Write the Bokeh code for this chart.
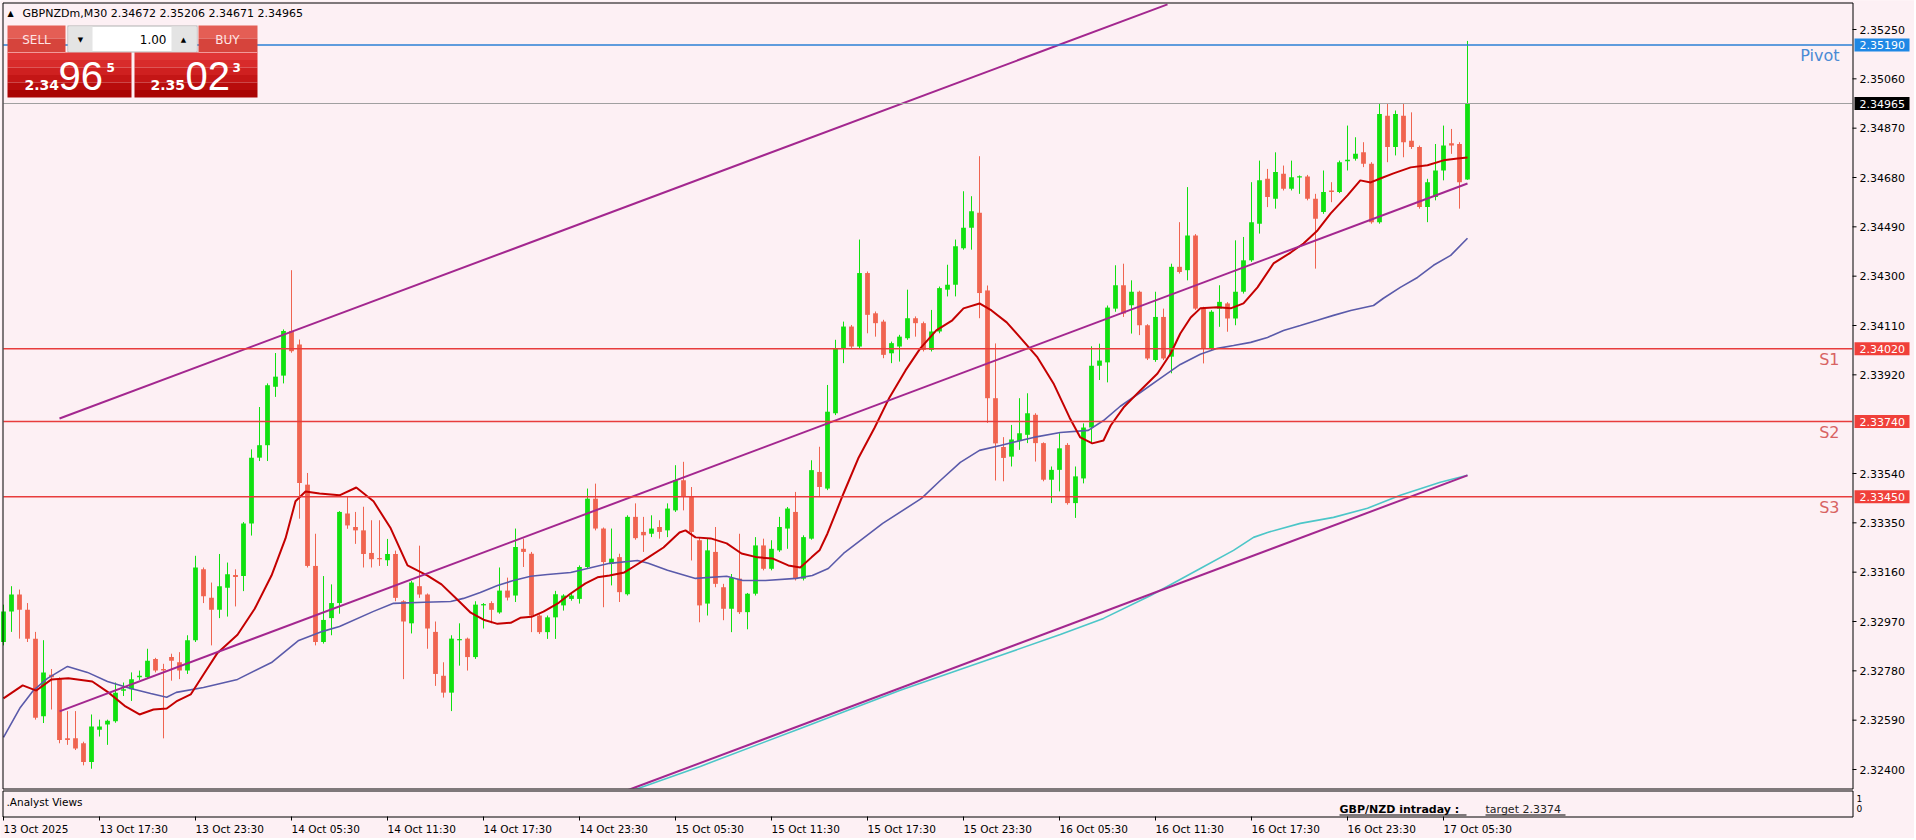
import numpy as np
from bokeh.plotting import figure
from bokeh.models import Range1d, Label, ColumnDataSource
from bokeh.embed import file_html
from bokeh.resources import INLINE

# ------------------------------------------------------------------ data
symbol = "GBPNZDm,M30"
opens = [2.32891, 2.33009, 2.33074, 2.33015, 2.32904, 2.32605, 2.32765, 2.32748, 2.32520, 2.32520,
         2.32501, 2.32429, 2.32553, 2.32573, 2.32586, 2.32703, 2.32709, 2.32755, 2.32755, 2.32826,
         2.32787, 2.32833, 2.32813, 2.32781, 2.32898, 2.33171, 2.33061, 2.33015, 2.33100, 2.33149,
         2.33145, 2.33347, 2.33601, 2.33649, 2.33874, 2.33917, 2.34089, 2.34037, 2.33497, 2.33184,
         2.32891, 2.32983, 2.33041, 2.33386, 2.33334, 2.33321, 2.33234, 2.33214, 2.33206, 2.33230,
         2.33048, 2.32963, 2.33106, 2.33074, 2.32930, 2.32761, 2.32696, 2.32898, 2.32904, 2.32833,
         2.33032, 2.33041, 2.33005, 2.33089, 2.33070, 2.33250, 2.33231, 2.32993, 2.32929, 2.32986,
         2.33032, 2.33057, 2.33057, 2.33180, 2.33443, 2.33328, 2.33193, 2.33218, 2.33075, 2.33373,
         2.33315, 2.33308, 2.33334, 2.33321, 2.33398, 2.33514, 2.33450, 2.33283, 2.33039, 2.33238,
         2.33102, 2.33019, 2.33135, 2.33006, 2.33077, 2.33263, 2.33173, 2.33244, 2.33328, 2.33392,
         2.33135, 2.33289, 2.33546, 2.33482, 2.33772, 2.34022, 2.34106, 2.34029, 2.34312, 2.34157,
         2.34125, 2.34003, 2.34029, 2.34061, 2.34138, 2.34119, 2.34016, 2.34087, 2.34248, 2.34267,
         2.34408, 2.34486, 2.34544, 2.34245, 2.33830, 2.33642, 2.33605, 2.33665, 2.33689, 2.33766,
         2.33657, 2.33516, 2.33554, 2.33650, 2.33426, 2.33521, 2.33717, 2.33955, 2.33968, 2.34175,
         2.34265, 2.34188, 2.34240, 2.34111, 2.33977, 2.34143, 2.33990, 2.34336, 2.34323, 2.34457,
         2.34175, 2.34022, 2.34175, 2.34195, 2.34137, 2.34240, 2.34361, 2.34502, 2.34675, 2.34598,
         2.34694, 2.34637, 2.34681, 2.34684, 2.34598, 2.34547, 2.34630, 2.34624, 2.34743, 2.34752,
         2.34777, 2.34733, 2.34508, 2.34918, 2.34797, 2.34918, 2.34822, 2.34797, 2.34566, 2.34605,
         2.34707, 2.34812, 2.34809, 2.34672]
highs = [2.33035, 2.33106, 2.33093, 2.33041, 2.32930, 2.32898, 2.32787, 2.32755, 2.32625, 2.32625,
         2.32507, 2.32612, 2.32592, 2.32592, 2.32735, 2.32735, 2.32774, 2.32781, 2.32865, 2.32830,
         2.32807, 2.32846, 2.32852, 2.32917, 2.33223, 2.33178, 2.33120, 2.33230, 2.33197, 2.33171,
         2.33353, 2.33633, 2.33796, 2.33887, 2.34004, 2.34095, 2.34323, 2.34056, 2.33542, 2.33308,
         2.33145, 2.33113, 2.33395, 2.33451, 2.33392, 2.33412, 2.33360, 2.33360, 2.33288, 2.33243,
         2.33052, 2.33126, 2.33262, 2.33078, 2.32970, 2.32813, 2.32917, 2.32963, 2.32908, 2.33048,
         2.33041, 2.33048, 2.33178, 2.33139, 2.33328, 2.33289, 2.33238, 2.32998, 2.32993, 2.33088,
         2.33075, 2.33080, 2.33186, 2.33482, 2.33501, 2.33332, 2.33328, 2.33231, 2.33379, 2.33425,
         2.33373, 2.33379, 2.33360, 2.33425, 2.33572, 2.33585, 2.33488, 2.33295, 2.33289, 2.33334,
         2.33115, 2.33153, 2.33308, 2.33080, 2.33295, 2.33289, 2.33283, 2.33373, 2.33411, 2.33469,
         2.33302, 2.33591, 2.33643, 2.33881, 2.34055, 2.34125, 2.34112, 2.34441, 2.34318, 2.34164,
         2.34132, 2.34048, 2.34074, 2.34248, 2.34145, 2.34125, 2.34170, 2.34260, 2.34344, 2.34441,
         2.34627, 2.34608, 2.34762, 2.34264, 2.34041, 2.33680, 2.33727, 2.33830, 2.33849, 2.33772,
         2.33660, 2.33567, 2.33695, 2.33657, 2.33567, 2.33733, 2.34030, 2.34040, 2.34187, 2.34342,
         2.34348, 2.34284, 2.34244, 2.34115, 2.34240, 2.34175, 2.34348, 2.34508, 2.34643, 2.34462,
         2.34182, 2.34169, 2.34265, 2.34200, 2.34438, 2.34451, 2.34662, 2.34745, 2.34713, 2.34777,
         2.34726, 2.34745, 2.34688, 2.34690, 2.34617, 2.34707, 2.34662, 2.34745, 2.34880, 2.34835,
         2.34816, 2.34739, 2.34963, 2.34963, 2.34938, 2.34963, 2.34931, 2.34803, 2.34675, 2.34809,
         2.34880, 2.34867, 2.34816, 2.35206]
lows = [2.32878, 2.32930, 2.32904, 2.32891, 2.32592, 2.32579, 2.32631, 2.32501, 2.32495, 2.32475,
        2.32416, 2.32403, 2.32527, 2.32495, 2.32580, 2.32683, 2.32664, 2.32745, 2.32750, 2.32774,
        2.32520, 2.32742, 2.32748, 2.32768, 2.32891, 2.33041, 2.32878, 2.32983, 2.32989, 2.33028,
        2.33087, 2.33301, 2.33588, 2.33588, 2.33835, 2.33887, 2.34005, 2.33366, 2.33178, 2.32878,
        2.32885, 2.32917, 2.33000, 2.33327, 2.33269, 2.33178, 2.33178, 2.33184, 2.33184, 2.33048,
        2.32748, 2.32924, 2.33061, 2.32865, 2.32722, 2.32677, 2.32625, 2.32800, 2.32781, 2.32826,
        2.32943, 2.32963, 2.33000, 2.33051, 2.33045, 2.33180, 2.32929, 2.32922, 2.32903, 2.32903,
        2.33012, 2.33050, 2.33039, 2.33173, 2.33321, 2.33025, 2.33109, 2.33045, 2.33070, 2.33285,
        2.33238, 2.33295, 2.33289, 2.33295, 2.33392, 2.33398, 2.33205, 2.32967, 2.32993, 2.33102,
        2.32975, 2.32929, 2.32999, 2.32940, 2.33070, 2.33167, 2.33167, 2.33238, 2.33250, 2.33128,
        2.33128, 2.33285, 2.33450, 2.33476, 2.33765, 2.33965, 2.34022, 2.34022, 2.34080, 2.34067,
        2.33984, 2.33965, 2.33971, 2.34055, 2.34067, 2.34010, 2.34010, 2.34080, 2.34222, 2.34222,
        2.34402, 2.34402, 2.34138, 2.33735, 2.33513, 2.33510, 2.33567, 2.33631, 2.33657, 2.33586,
        2.33510, 2.33426, 2.33471, 2.33420, 2.33369, 2.33502, 2.33660, 2.33900, 2.33891, 2.34163,
        2.34143, 2.34079, 2.34073, 2.33977, 2.33970, 2.33977, 2.33926, 2.34310, 2.34284, 2.34170,
        2.33964, 2.34015, 2.34105, 2.34086, 2.34111, 2.34233, 2.34355, 2.34464, 2.34566, 2.34560,
        2.34630, 2.34630, 2.34617, 2.34592, 2.34329, 2.34540, 2.34585, 2.34620, 2.34707, 2.34745,
        2.34720, 2.34502, 2.34502, 2.34739, 2.34765, 2.34758, 2.34790, 2.34560, 2.34508, 2.34592,
        2.34669, 2.34771, 2.34560, 2.34671]
closes = [2.33009, 2.33074, 2.33015, 2.32904, 2.32599, 2.32774, 2.32755, 2.32514, 2.32514, 2.32481,
          2.32429, 2.32566, 2.32566, 2.32588, 2.32696, 2.32709, 2.32748, 2.32761, 2.32819, 2.32781,
          2.32781, 2.32819, 2.32781, 2.32898, 2.33178, 2.33067, 2.33015, 2.33106, 2.33152, 2.33141,
          2.33347, 2.33601, 2.33649, 2.33880, 2.33913, 2.34089, 2.34011, 2.33503, 2.33184, 2.32891,
          2.32976, 2.33041, 2.33392, 2.33340, 2.33321, 2.33230, 2.33210, 2.33210, 2.33230, 2.33061,
          2.32970, 2.33120, 2.33074, 2.32943, 2.32768, 2.32696, 2.32904, 2.32902, 2.32833, 2.33035,
          2.33037, 2.33015, 2.33089, 2.33062, 2.33257, 2.33238, 2.32993, 2.32929, 2.32986, 2.33075,
          2.33070, 2.33070, 2.33180, 2.33443, 2.33328, 2.33199, 2.33212, 2.33083, 2.33373, 2.33291,
          2.33302, 2.33328, 2.33315, 2.33405, 2.33514, 2.33450, 2.33315, 2.33032, 2.33244, 2.33115,
          2.33019, 2.33138, 2.33006, 2.33077, 2.33263, 2.33173, 2.33250, 2.33334, 2.33405, 2.33135,
          2.33295, 2.33553, 2.33488, 2.33778, 2.34022, 2.34106, 2.34029, 2.34312, 2.34151, 2.34119,
          2.33997, 2.34042, 2.34067, 2.34138, 2.34119, 2.34016, 2.34087, 2.34254, 2.34267, 2.34415,
          2.34486, 2.34550, 2.34235, 2.33830, 2.33656, 2.33600, 2.33671, 2.33695, 2.33772, 2.33657,
          2.33516, 2.33554, 2.33637, 2.33426, 2.33529, 2.33717, 2.33955, 2.33975, 2.34179, 2.34265,
          2.34156, 2.34240, 2.34111, 2.33983, 2.34143, 2.33983, 2.34336, 2.34316, 2.34457, 2.34175,
          2.34022, 2.34163, 2.34201, 2.34137, 2.34240, 2.34361, 2.34508, 2.34669, 2.34605, 2.34701,
          2.34637, 2.34681, 2.34684, 2.34598, 2.34521, 2.34624, 2.34624, 2.34739, 2.34748, 2.34771,
          2.34733, 2.34508, 2.34925, 2.34797, 2.34925, 2.34816, 2.34797, 2.34566, 2.34662, 2.34707,
          2.34803, 2.34803, 2.34662, 2.34965]
ask_price = 2.35023

x_tick_labels = ["13 Oct 2025", "13 Oct 17:30", "13 Oct 23:30", "14 Oct 05:30", "14 Oct 11:30",
                 "14 Oct 17:30", "14 Oct 23:30", "15 Oct 05:30", "15 Oct 11:30", "15 Oct 17:30",
                 "15 Oct 23:30", "16 Oct 05:30", "16 Oct 11:30", "16 Oct 17:30", "16 Oct 23:30",
                 "17 Oct 05:30"]
bars_per_label = 12
y_ticks = [2.35250, 2.35060, 2.34870, 2.34680, 2.34490, 2.34300, 2.34110, 2.33920,
           2.33540, 2.33350, 2.33160, 2.32970, 2.32780, 2.32590, 2.32400]

pivot_level = 2.35190
support_levels = [2.34020, 2.33740, 2.33450]
support_names = ["S1", "S2", "S3"]

fast_ma_bar = [0, 2.4, 4.1, 6, 8.1, 11.1, 13.1, 15.25, 17, 18.75,
               20.4, 21.6, 23.4, 25, 26.75, 29.25, 31.4, 33.5, 35.25, 36.5,
               37.75, 39.5, 42, 44.1, 46.25, 48.4, 50.5, 53, 54.75, 56.75,
               58.4, 60, 61.75, 63.4, 64.6, 66, 67.5, 69.4, 70.9, 72.75,
               74.25, 75.75, 77.6, 78.6, 80.6, 82.5, 84.5, 85.25, 86.5, 88.4,
               90.4, 92.25, 94.25, 96.1, 98.1, 99.6, 101, 102, 103, 105,
               106.9, 108.9, 110.75, 112.75, 114.6, 116.6, 118.6, 120, 122, 123.5,
               125.4, 127.4, 129.25, 131.25, 133.25, 134.6, 136.1, 137.5, 138.4, 140,
               142.1, 144.25, 145.9, 147.1, 148.4, 149.6, 151.75, 153.4, 155, 156.75,
               158.75, 160.9, 162.5, 164.25, 165.9, 168, 169.6, 170.9, 172.1, 173.75,
               175.9, 178, 180, 181.75, 183]
fast_ma = [2.32674, 2.32724, 2.32704, 2.32747, 2.32751, 2.32739, 2.32697, 2.32643, 2.32612, 2.32631,
           2.32635, 2.32662, 2.32689, 2.32766, 2.32849, 2.32919, 2.33019, 2.33147, 2.33290, 2.33433,
           2.33471, 2.33463, 2.33456, 2.33486, 2.33433, 2.33329, 2.33186, 2.33147, 2.33113, 2.33054,
           2.33004, 2.32977, 2.32961, 2.32965, 2.32984, 2.32988, 2.33008, 2.33042, 2.33078, 2.33117,
           2.33140, 2.33147, 2.33159, 2.33178, 2.33217, 2.33255, 2.33313, 2.33321, 2.33294, 2.33290,
           2.33271, 2.33232, 2.33217, 2.33213, 2.33186, 2.33178, 2.33217, 2.33244, 2.33309, 2.33463,
           2.33602, 2.33717, 2.33833, 2.33937, 2.34022, 2.34091, 2.34130, 2.34176, 2.34195, 2.34168,
           2.34122, 2.34053, 2.33987, 2.33887, 2.33756, 2.33679, 2.33656, 2.33667, 2.33725, 2.33794,
           2.33860, 2.33925, 2.34002, 2.34079, 2.34141, 2.34176, 2.34180, 2.34176, 2.34195, 2.34257,
           2.34349, 2.34391, 2.34426, 2.34476, 2.34542, 2.34611, 2.34669, 2.34661, 2.34676, 2.34696,
           2.34719, 2.34727, 2.34746, 2.34753, 2.34757]

slow_ma_bar = [0, 2.1, 3.75, 5.5, 8, 10.5, 13, 15.9, 18.4, 20.4,
               21.6, 25, 29.25, 33.5, 36.9, 39.9, 42, 46.25, 48.75, 52.6,
               55.9, 57.5, 59.6, 61.75, 63.75, 65.9, 68, 70.9, 75.75, 79.25,
               80.6, 83, 86.5, 90.4, 92.4, 95.25, 99.1, 101.1, 103.1, 105,
               109.9, 114.75, 117.1, 119.6, 122, 124.6, 128.75, 132.1, 135.6, 137.5,
               139.6, 142.1, 144.6, 147.1, 149.6, 151.75, 153.75, 155.9, 158, 160,
               162.1, 164.25, 166.25, 168.4, 171.25, 172.5, 174.6, 176.75, 178.75, 180.9,
               183]
slow_ma = [2.32524, 2.32639, 2.32705, 2.32751, 2.32797, 2.32774, 2.32739, 2.32712, 2.32693, 2.32678,
           2.32697, 2.32716, 2.32747, 2.32812, 2.32897, 2.32932, 2.32951, 2.33009, 2.33040, 2.33044,
           2.33047, 2.33059, 2.33082, 2.33109, 2.33128, 2.33144, 2.33151, 2.33159, 2.33194, 2.33205,
           2.33194, 2.33167, 2.33136, 2.33144, 2.33128, 2.33128, 2.33136, 2.33147, 2.33174, 2.33232,
           2.33348, 2.33444, 2.33513, 2.33583, 2.33629, 2.33648, 2.33679, 2.33698, 2.33706, 2.33744,
           2.33799, 2.33852, 2.33906, 2.33960, 2.33999, 2.34022, 2.34033, 2.34045, 2.34064, 2.34091,
           2.34110, 2.34130, 2.34149, 2.34168, 2.34187, 2.34215, 2.34257, 2.34295, 2.34342, 2.34380,
           2.34446]

trend_ma_bar = [78, 87.1, 99.6, 112.1, 124.6, 132.1, 137.5, 143.4, 149.6, 153.75,
                156.25, 158, 162.1, 166.25, 170.5, 174.6, 179.6, 183]
trend_ma = [2.32312, 2.32412, 2.32558, 2.32705, 2.32839, 2.32920, 2.32982, 2.33070, 2.33174, 2.33244,
            2.33294, 2.33313, 2.33348, 2.33371, 2.33406, 2.33456, 2.33506, 2.33533]

channel_upper_bar = [7, 145.5]
channel_upper = [2.33752, 2.35347]
channel_mid_bar = [7, 183]
channel_mid = [2.32624, 2.34657]
channel_low_bar = [78, 183]
channel_low = [2.32320, 2.33533]

panel_title = ".Analyst Views"
analyst_view = "GBP/NZD intraday :"
analyst_target = "target 2.3374"
sub_axis_labels = ["1", "0"]

# ------------------------------------------------------------------ layout constants (page px)
BG = "#fdf0f4"
BULL = "#10e010"
BEAR = "#f06450"
FONT = "DejaVu Sans"
TOTAL_W, TOTAL_H = 1914, 838
CL, CT, CR, CB = 3, 3, 1852, 788      # price chart frame
SUB_T, SUB_B = 790, 816               # indicator sub-window
BAR_PX = 8.0
XS = -CL / BAR_PX                      # bar 0 sits on x = 3 px
PXU = 25965.0                          # px per price unit
YT = 2.3525 + 29 / PXU                 # price at y = 0 px


def X(px):
    return XS + px / BAR_PX


def Y(py):
    return YT - py / PXU


p = figure(frame_width=TOTAL_W, frame_height=TOTAL_H,
           x_range=Range1d(X(0), X(TOTAL_W)), y_range=Range1d(Y(TOTAL_H), Y(0)),
           x_axis_location=None, y_axis_location=None, toolbar_location=None,
           output_backend="svg", min_border=0, outline_line_color=None,
           background_fill_color=BG, border_fill_color=BG)
p.grid.visible = False

# ---------------- candles
o = np.array(opens); h = np.array(highs); l = np.array(lows); c = np.array(closes)
idx = np.arange(len(o))
top = np.maximum(o, c)
bot = np.minimum(o, c)
minh = 1.2 / PXU
mid = (top + bot) / 2
small = (top - bot) < minh
top = np.where(small, mid + minh / 2, top)
bot = np.where(small, mid - minh / 2, bot)
cols = np.where(c >= o, BULL, BEAR)
src = ColumnDataSource(dict(x=idx, h=h, l=l, t=top, b=bot, col=cols))
p.segment(x0="x", y0="l", x1="x", y1="h", line_color="col", line_width=1, source=src)
p.vbar(x="x", width=0.6, top="t", bottom="b", fill_color="col", line_color=None, source=src)

# ---------------- moving averages and channel
p.line(trend_ma_bar, trend_ma, line_color="#4cc6c8", line_width=1.6)
p.line(slow_ma_bar, slow_ma, line_color="#5a5aaa", line_width=1.6)
p.line(fast_ma_bar, fast_ma, line_color="#c40000", line_width=2)
for bx, by in [(channel_upper_bar, channel_upper), (channel_mid_bar, channel_mid),
               (channel_low_bar, channel_low)]:
    p.line(bx, by, line_color="#a3278f", line_width=2)

# ---------------- horizontal levels (across the price chart only)
lv_y = [closes[-1], pivot_level] + support_levels
lv_c = ["#a0a0a0", "#2a80d6"] + ["#e83c3c"] * len(support_levels)
lv_w = [1, 1.5] + [1.5] * len(support_levels)
p.segment(x0=[X(CL)] * len(lv_y), x1=[X(CR)] * len(lv_y), y0=lv_y, y1=lv_y,
          line_color=lv_c, line_width=lv_w)

# ---------------- masks outside the price chart, frames
p.quad(left=[X(0)], right=[X(TOTAL_W)], top=[Y(CB)], bottom=[Y(TOTAL_H)],
       fill_color=BG, line_color=None)
p.quad(left=[X(0)], right=[X(TOTAL_W)], top=[Y(0)], bottom=[Y(CT)],
       fill_color=BG, line_color=None)
p.quad(left=[X(CR)], right=[X(TOTAL_W)], top=[Y(0)], bottom=[Y(TOTAL_H)],
       fill_color=BG, line_color=None)
p.quad(left=[X(CL - 0.5)], right=[X(CR + 0.5)], top=[Y(CT - 0.5)], bottom=[Y(CB + 0.5)],
       fill_color=None, line_color="black", line_width=1)
p.quad(left=[X(CL - 0.5)], right=[X(CR + 0.5)], top=[Y(SUB_T + 0.5)], bottom=[Y(SUB_B + 0.5)],
       fill_color=None, line_color="black", line_width=1)

# ---------------- level names
p.add_layout(Label(x=X(CR - 13), y=pivot_level, y_offset=-1, text="Pivot", text_align="right",
                   text_baseline="top", text_color="#4a8ad4", text_font=FONT, text_font_size="16px"))
for lv, nm in zip(support_levels, support_names):
    p.add_layout(Label(x=X(CR - 13), y=lv, y_offset=-1, text=nm, text_align="right",
                       text_baseline="top", text_color="#d86262", text_font=FONT,
                       text_font_size="16px"))

# ---------------- right price scale
p.segment(x0=[X(CR)] * len(y_ticks), x1=[X(CR + 4)] * len(y_ticks), y0=y_ticks, y1=y_ticks,
          line_color="black", line_width=1)
for yv in y_ticks:
    p.add_layout(Label(x=X(CR + 7), y=yv, text=f"{yv:.5f}", text_align="left",
                       text_baseline="middle", text_font=FONT, text_font_size="11px",
                       text_color="black"))
boxes = [(pivot_level, "#1e88e5"), (closes[-1], "#000000")] + [(lv, "#f0403a") for lv in support_levels]
half = 6.5 / PXU
p.quad(left=[X(CR + 2)] * len(boxes), right=[X(CR + 57)] * len(boxes),
       top=[b[0] + half for b in boxes], bottom=[b[0] - half for b in boxes],
       fill_color=[b[1] for b in boxes], line_color=None)
for lv, colr in boxes:
    p.add_layout(Label(x=X(CR + 7), y=lv, text=f"{lv:.5f}", text_align="left",
                       text_baseline="middle", text_color="white", text_font=FONT,
                       text_font_size="11px"))

# ---------------- time scale
tick_bars = [i * bars_per_label for i in range(len(x_tick_labels))]
p.segment(x0=tick_bars, x1=tick_bars, y0=[Y(SUB_B)] * len(tick_bars),
          y1=[Y(SUB_B + 4)] * len(tick_bars), line_color="black", line_width=1)
for tb, tl in zip(tick_bars, x_tick_labels):
    p.add_layout(Label(x=tb, y=Y(SUB_B + 12), text=tl, text_align="left", text_baseline="middle",
                       text_font=FONT, text_font_size="10.5px", text_color="black"))

# ---------------- indicator sub-window texts
p.add_layout(Label(x=X(6), y=Y(801), text=panel_title, text_baseline="middle",
                   text_font=FONT, text_font_size="10.5px", text_color="black"))
p.add_layout(Label(x=X(1339), y=Y(809), text=analyst_view, text_baseline="middle",
                   text_font=FONT, text_font_size="11px", text_font_style="bold",
                   text_color="black"))
p.add_layout(Label(x=X(1485), y=Y(809), text=analyst_target, text_baseline="middle",
                   text_font=FONT, text_font_size="11px", text_color="#222222"))
p.segment(x0=[X(1339), X(1485)], y0=[Y(814.5)] * 2, x1=[X(1466), X(1565)],
          y1=[Y(814.5)] * 2, line_color="black", line_width=1)
for k, t in enumerate(sub_axis_labels):
    p.add_layout(Label(x=X(CR + 4), y=Y(798 + 10 * k), text=t, text_baseline="middle",
                       text_font=FONT, text_font_size="9px", text_color="black"))

# ---------------- header
p.add_layout(Label(x=X(7), y=Y(13), text="\u25b2", text_baseline="middle", text_font=FONT,
                   text_font_size="8px", text_color="black"))
p.add_layout(Label(x=X(22), y=Y(13),
                   text=f"{symbol}  {opens[-1]:.5f} {highs[-1]:.5f} {lows[-1]:.5f} {closes[-1]:.5f}",
                   text_baseline="middle", text_font=FONT, text_font_size="11px", text_color="black"))

# ---------------- one-click trading panel
rects = [(7, 25, 65, 38, "#e45e55"), (7, 38, 65, 52, "#d6443c"),
         (198, 25, 257, 38, "#e45e55"), (198, 38, 257, 52, "#d6443c"),
         (67, 25, 197, 52, "#b0b0b0"), (68, 26, 196, 51, "#ffffff"),
         (68, 26, 92, 51, "#e4e4e4"), (171, 26, 196, 51, "#e4e4e4")]
grad = ["#e03636", "#d82b2b", "#cf2020", "#c41616", "#b80c0c", "#aa0404"]
for k, gc in enumerate(grad):
    y0 = 52 + k * 7.5
    rects.append((7, y0, 131, y0 + 7.5, gc))
    rects.append((134, y0, 257, y0 + 7.5, gc))
psrc = ColumnDataSource(dict(l=[X(r[0]) for r in rects], r=[X(r[2]) for r in rects],
                             t=[Y(r[1]) for r in rects], b=[Y(r[3]) for r in rects],
                             col=[r[4] for r in rects]))
p.quad(left="l", right="r", top="t", bottom="b", fill_color="col", line_color=None, source=psrc)
p.segment(x0=[X(7), X(198)], y0=[Y(52), Y(52)], x1=[X(65), X(257)], y1=[Y(52), Y(52)],
          line_color="#f29a9a", line_width=1)


def lab(px, py, txt, size, color="white", align="left", base="middle", style="normal", font=FONT):
    p.add_layout(Label(x=X(px), y=Y(py), text=txt, text_align=align, text_baseline=base,
                       text_font=font, text_font_size=size, text_color=color,
                       text_font_style=style))


lab(36, 39, "SELL", "12px", "#ffe4e4", "center")
lab(227, 39, "BUY", "12px", "#ffe4e4", "center")
lab(80, 39, "\u25bc", "7px", "black", "center")
lab(183, 39, "\u25b2", "7px", "black", "center")
lab(166, 39, "1.00", "12px", "black", "right")
bid_s = f"{closes[-1]:.5f}"
ask_s = f"{ask_price:.5f}"
lab(24, 84, bid_s[:4], "14px", style="bold")
lab(58, 75, bid_s[4:6], "40px", font="Liberation Sans")
lab(106, 67, bid_s[6], "12px", style="bold")
lab(150, 84, ask_s[:4], "14px", style="bold")
lab(185, 75, ask_s[4:6], "40px", font="Liberation Sans")
lab(232, 67, ask_s[6], "12px", style="bold")

open("out.html", "w").write(file_html(p, INLINE, title="GBPNZDm,M30"))
